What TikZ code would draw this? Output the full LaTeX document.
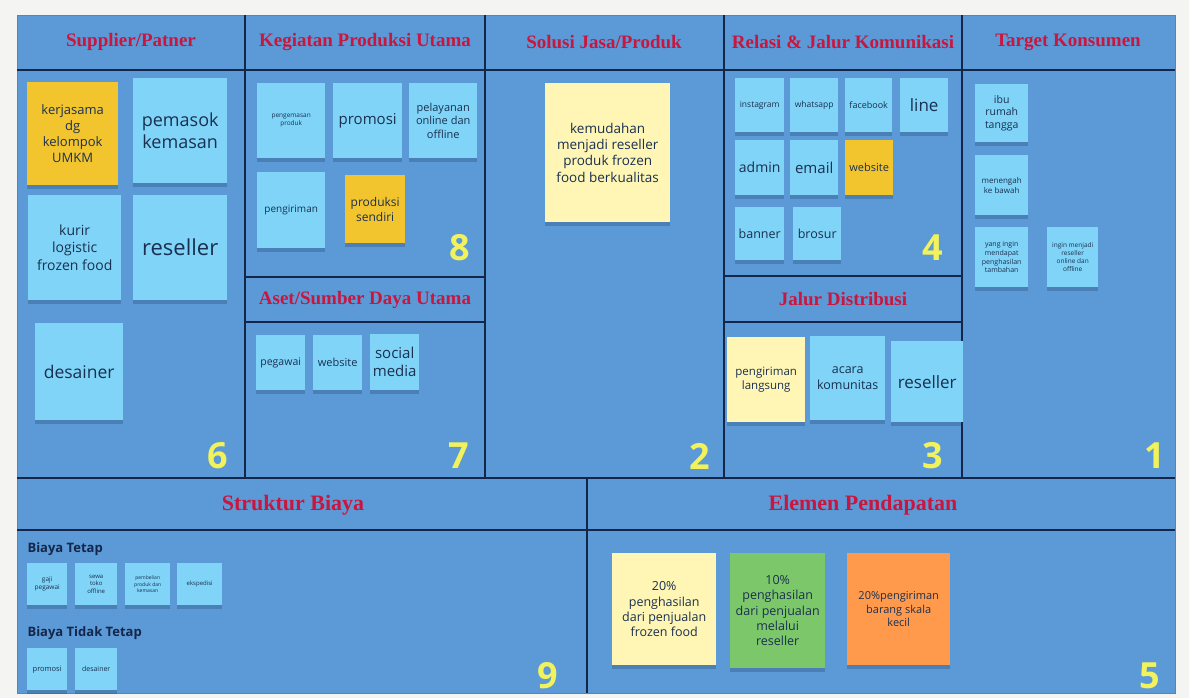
\documentclass[tikz,border=0pt]{standalone}
\usepackage{fontspec}
\setmainfont{Open Sans}
\newfontfamily\hdfont{Liberation Serif}
\usetikzlibrary{shadows}
\definecolor{board}{HTML}{5B9AD6}
\definecolor{bgc}{HTML}{F4F4F2}
\definecolor{navy}{HTML}{14264A}
\definecolor{cyancard}{HTML}{7FD4F7}
\definecolor{goldcard}{HTML}{F2C52F}
\definecolor{palecard}{HTML}{FFF6B5}
\definecolor{greencard}{HTML}{7DC76B}
\definecolor{orangecard}{HTML}{FF9A4D}
\definecolor{hdred}{HTML}{C8163F}
\definecolor{numyel}{HTML}{F2F25C}
\definecolor{cardtxt}{HTML}{1A3050}
\newcommand{\fs}[1]{\fontsize{#1}{#1}\linespread{1.22}\selectfont}
\tikzset{
  x=1pt,y=-1pt,
  card/.style={fill=cyancard, anchor=north west, inner sep=1pt, align=center,
     text=cardtxt, drop shadow={shadow xshift=0pt, shadow yshift=-4pt, opacity=.22, fill=navy}},
  gold/.style={card, fill=goldcard},
  pale/.style={card, fill=palecard},
  green/.style={card, fill=greencard},
  orange/.style={card, fill=orangecard},
  hdr/.style={text=hdred, font=\hdfont\bfseries\fs{19}},
  bighdr/.style={text=hdred, font=\hdfont\bfseries\fs{22}},
  num/.style={text=numyel, font=\bfseries\fs{36}},
  grid/.style={draw=navy, line width=1.6pt},
  lbl/.style={text=navy, font=\bfseries\fs{13}, anchor=west},
}
\newcommand{\card}[7]{\node[#1, minimum width=#4, minimum height=#5, font=\fs{#6}] (#2) at (#3) {#7};}
\begin{document}
\begin{tikzpicture}
\useasboundingbox (0,0) rectangle (1189,698);
\fill[bgc] (0,0) rectangle (1189,698);
\fill[board] (17,15) rectangle (1175,693);
\draw[navy!60, line width=0.6pt] (17,15) rectangle (1175,693);
% grid
\draw[grid] (17,70) -- (1175,70);
\draw[grid] (17,478) -- (1175,478);
\draw[grid] (17,530) -- (1175,530);
\foreach \x in {245,485,724,962} \draw[grid] (\x,15) -- (\x,478);
\draw[grid] (245,277) -- (485,277);
\draw[grid] (245,322) -- (485,322);
\draw[grid] (724,276) -- (962,276);
\draw[grid] (724,322) -- (962,322);
\draw[grid] (587,478) -- (587,693);
% headers
\node[hdr] (h6) at (131,42) {Supplier/Patner};
\node[hdr] (h8) at (365,42) {Kegiatan Produksi Utama};
\node[hdr] (h2) at (604,42) {Solusi Jasa/Produk};
\node[hdr] (h4) at (843,42) {Relasi \& Jalur Komunikasi};
\node[hdr] (h1) at (1068,42) {Target Konsumen};
\node[hdr] (h7) at (365,300) {Aset/Sumber Daya Utama};
\node[hdr] (h3) at (843,299) {Jalur Distribusi};
\node[bighdr] (h9) at (293,505) {Struktur Biaya};
\node[bighdr] (h5) at (863,505) {Elemen Pendapatan};
% numbers
\node[num] (n6) at (218,456) {6};
\node[num] (n8) at (460,248) {8};
\node[num] (n7) at (459,456) {7};
\node[num] (n2) at (700,456) {2};
\node[num] (n4) at (933,248) {4};
\node[num] (n3) at (933,456) {3};
\node[num] (n1) at (1155,456) {1};
\node[num] (n9) at (548,676) {9};
\node[num] (n5) at (1150,676) {5};
% supplier
\card{gold}{s1}{27,82}{91}{103}{13}{kerjasama\\dg\\kelompok\\UMKM}
\card{card}{s2}{133,78}{94}{105}{18}{pemasok\\kemasan}
\card{card}{s3}{28,195}{93}{105}{14}{kurir\\logistic\\frozen food}
\card{card}{s4}{133,195}{94}{105}{22}{reseller}
\card{card}{s5}{35,323}{88}{97}{17.5}{desainer}
% kegiatan
\card{card}{k1}{257,83}{68}{75}{6.5}{pengemasan\\produk}
\card{card}{k2}{333,83}{69}{75}{15}{promosi}
\card{card}{k3}{409,83}{68}{75}{11}{pelayanan\\online dan\\offline}
\card{card}{k4}{257,172}{68}{76}{10}{pengiriman}
\card{gold}{k5}{345,175}{60}{68}{12}{produksi\\sendiri}
% aset
\card{card}{a1}{256,335}{49}{55}{10.5}{pegawai}
\card{card}{a2}{313,335}{49}{55}{11}{website}
\card{card}{a3}{370,334}{49}{56}{15}{social\\media}
% solusi
\card{pale}{p1}{545,83}{125}{139}{13.5}{kemudahan\\menjadi reseller\\produk frozen\\food berkualitas}
% relasi
\card{card}{r1}{735,78}{49}{54}{8.5}{instagram}
\card{card}{r2}{790,78}{48}{54}{8.5}{whatsapp}
\card{card}{r3}{845,78}{47}{54}{9}{facebook}
\card{card}{r4}{900,78}{48}{54}{17}{line}
\card{card}{r5}{735,140}{49}{55}{14}{admin}
\card{card}{r6}{790,140}{48}{55}{15}{email}
\card{gold}{r7}{845,140}{48}{55}{11}{website}
\card{card}{r8}{735,207}{49}{53}{12.5}{banner}
\card{card}{r9}{793,207}{48}{53}{12.5}{brosur}
% jalur
\card{pale}{j1}{727,337}{78}{85}{11.5}{pengiriman\\langsung}
\card{card}{j2}{810,336}{75}{84}{12.5}{acara\\komunitas}
\card{card}{j3}{891,341}{72}{81}{17}{reseller}
% target
\card{card}{t1}{975,84}{53}{58}{10.5}{ibu\\rumah\\tangga}
\card{card}{t2}{975,155}{53}{60}{8}{menengah\\ke bawah}
\card{card}{t3}{975,227}{53}{60}{7}{yang ingin\\mendapat\\penghasilan\\tambahan}
\card{card}{t4}{1047,227}{51}{60}{6.5}{ingin menjadi\\reseller\\online dan\\offline}
% biaya
\node[lbl] (bt) at (24,549) {Biaya Tetap};
\card{card}{b1}{27,563}{40}{42}{6.5}{gaji\\pegawai}
\card{card}{b2}{75,563}{42}{42}{6}{sewa\\toko\\offline}
\card{card}{b3}{125,563}{45}{42}{5}{pembelian\\produk dan\\kemasan}
\card{card}{b4}{177,563}{45}{42}{6}{ekspedisi}
\node[lbl] (btt) at (24,633) {Biaya Tidak Tetap};
\card{card}{b5}{27,648}{40}{42}{7.5}{promosi}
\card{card}{b6}{75,648}{42}{42}{7}{desainer}
% pendapatan
\card{pale}{e1}{612,553}{104}{112}{12.5}{20\%\\penghasilan\\dari penjualan\\frozen food}
\card{green}{e2}{730,553}{95}{115}{12.5}{10\%\\penghasilan\\dari penjualan\\melalui\\reseller}
\card{orange}{e3}{847,553}{103}{112}{11}{20\%pengiriman\\barang skala\\kecil}
\end{tikzpicture}
\end{document}
